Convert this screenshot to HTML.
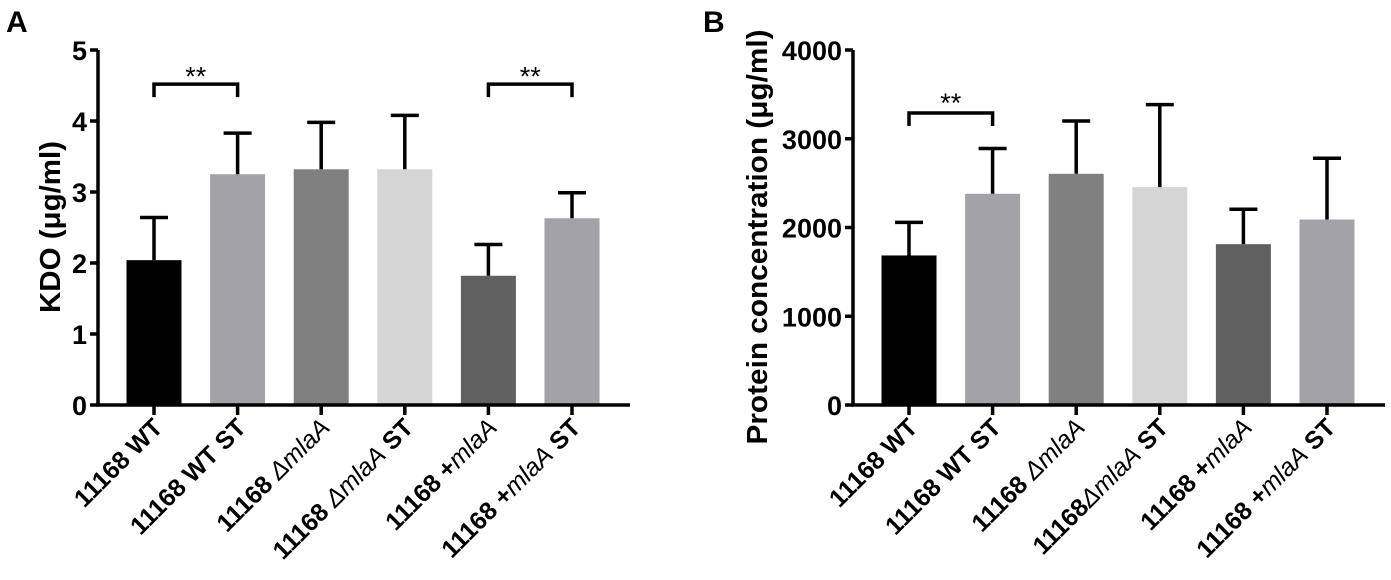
<!DOCTYPE html>
<html><head><meta charset="utf-8"><style>
html,body{margin:0;padding:0;background:#fff;}
svg{display:block;font-family:"Liberation Sans",Arial,sans-serif;}
</style></head><body>
<svg id="fig" width="1391" height="580" viewBox="0 0 1391 580">
<text x="6" y="32" font-size="30" font-weight="bold">A</text>
<text x="703" y="32" font-size="30" font-weight="bold">B</text>
</svg>
<script>
const categories = ["11168 WT","11168 WT ST","11168 ΔmlaA","11168 ΔmlaA ST","11168 +mlaA","11168 +mlaA ST"];
const kdoValues = [2.04, 3.25, 3.32, 3.32, 1.82, 2.63];
const kdoErrors = [2.64, 3.83, 3.98, 4.08, 2.26, 2.99];
const kdoTicks = [0,1,2,3,4,5];
const protValues = [1685, 2380, 2605, 2455, 1812, 2090];
const protErrors = [2058, 2890, 3200, 3385, 2205, 2780];
const protTicks = [0,1000,2000,3000,4000];
const kdoSig = [[0,1,4.52,4.7],[4,5,4.52,4.7]];
const protSig = [[0,1,3290,3460]];
const colors = ["#000000","#a2a2a7","#808080","#d5d5d5","#606060","#a2a2a7"];

const NS="http://www.w3.org/2000/svg";
const svg=document.getElementById('fig');
function el(tag,attrs,parent){const e=document.createElementNS(NS,tag);for(const k in attrs)e.setAttribute(k,attrs[k]);(parent||svg).appendChild(e);return e;}

function panel(cfg){
  const g=el('g',{});
  
  
  const y0=405,yTop=50;
  const ymax=cfg.ticks[cfg.ticks.length-1];
  const Y=v=>y0-(v/ymax)*(y0-yTop);
  const X=i=>cfg.first+i*cfg.step;
  cfg.values.forEach((v,i)=>{
    const r=el('rect',{x:X(i)-27.5,y:Y(v),width:55,height:y0-Y(v),fill:colors[i]},g);
    
    
    const cx=X(i);
    const e=el('path',{d:`M${cx},${Y(v)}V${Y(cfg.errors[i])}M${cx-14},${Y(cfg.errors[i])}H${cx+14}`,stroke:'#000','stroke-width':3.5,fill:'none'},g);
    
    
  });
  const ax=el('path',{d:`M${cfg.ax},${yTop}V${y0}H${cfg.axEnd}`,stroke:'#000','stroke-width':3.5,fill:'none'},g);
  
  
  cfg.ticks.forEach(t=>{
    el('path',{d:`M${cfg.ax-8},${Y(t)}H${cfg.ax}`,stroke:'#000','stroke-width':3.5},g);
    const tx=el('text',{x:cfg.ax-11,y:Y(t)+10,'text-anchor':'end','font-size':27,'font-weight':'bold'},g);
    tx.textContent=t;
    
    
  });
  categories.forEach((c,i)=>{
    const cx=X(i);
    el('path',{d:`M${cx},${y0}V${y0+10}`,stroke:'#000','stroke-width':3.5},g);
    const t=el('text',{transform:`translate(${cx+10},${y0+24}) rotate(-45)`,'text-anchor':'end','font-size':25,'font-weight':'bold'},g);
    
    
    let lbl=c; if(cfg.nospace && i===3) lbl=lbl.replace(' Δ','Δ');
    const m=lbl.match(/^(.*?)(Δ?mlaA)(.*)$/);
    if(m){
      const a=el('tspan',{},t);a.textContent=m[1];
      const b=el('tspan',{'font-weight':'normal','font-style':'italic'},t);b.textContent=m[2];
      if(m[3]){const d=el('tspan',{},t);d.textContent=m[3];}
    } else t.textContent=lbl;
  });
  cfg.sig.forEach(s=>{
    const a=X(s[0]),b=X(s[1]),yb=Y(s[2]);
    const p=el('path',{d:`M${a},${yb+13}V${yb}H${b}V${yb+13}`,stroke:'#000','stroke-width':3.5,fill:'none'},g);
    
    
    const st=el('text',{x:(a+b)/2,y:Y(s[3])+14,'text-anchor':'middle','font-size':27},g);
    st.textContent='**';
    
    
  });
  const yt=el('text',{transform:`translate(${cfg.titleX},${cfg.titleY}) rotate(-90)`,'text-anchor':'middle','font-size':29,'font-weight':'bold',textLength:cfg.titleLen,lengthAdjust:'spacingAndGlyphs'},g);
  yt.textContent=cfg.title;
  
  
}
panel({name:'kdo-chart',values:kdoValues,errors:kdoErrors,ticks:kdoTicks,sig:kdoSig,ax:98,axEnd:630,first:154,step:83.6,title:'KDO (μg/ml)',titleX:60,titleY:227,titleLen:172});
panel({name:'protein-chart',values:protValues,errors:protErrors,ticks:protTicks,sig:protSig,ax:853,axEnd:1385,first:909,step:83.6,title:'Protein concentration (μg/ml)',titleX:767,titleY:237,titleLen:415,nospace:true});
</script>
</body></html>
